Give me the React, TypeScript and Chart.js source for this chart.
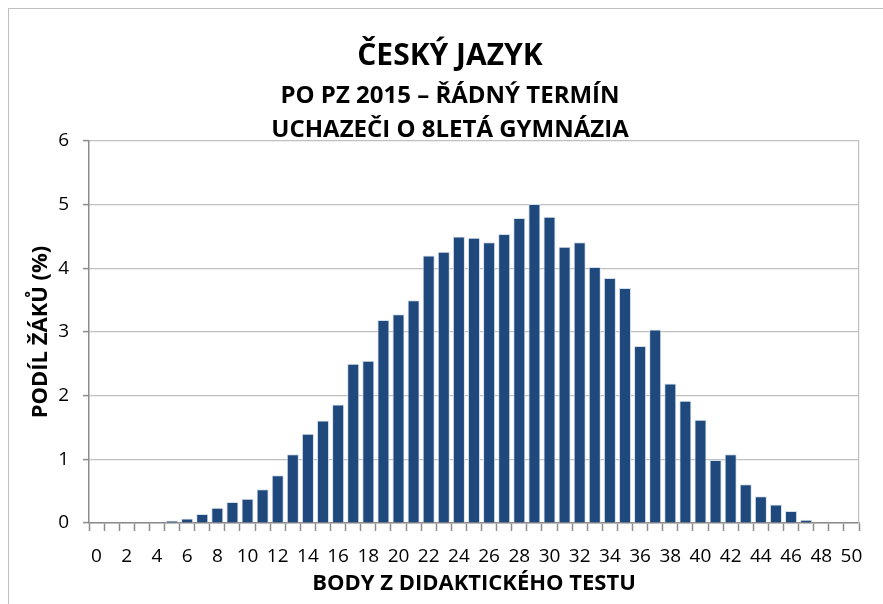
import React, { useEffect, useRef } from "react";
import { Chart, registerables } from "chart.js";

Chart.register(...registerables);

const points: string[] = [
  "0", "1", "2", "3", "4", "5", "6", "7", "8", "9",
  "10", "11", "12", "13", "14", "15", "16", "17", "18", "19",
  "20", "21", "22", "23", "24", "25", "26", "27", "28", "29",
  "30", "31", "32", "33", "34", "35", "36", "37", "38", "39",
  "40", "41", "42", "43", "44", "45", "46", "47", "48", "49", "50",
];

const shareOfPupils: number[] = [
  0, 0, 0, 0, 0, 0.04, 0.07, 0.14, 0.24, 0.33,
  0.38, 0.53, 0.75, 1.08, 1.4, 1.61, 1.86, 2.5, 2.55, 3.19,
  3.28, 3.5, 4.2, 4.26, 4.5, 4.48, 4.41, 4.54, 4.79, 5.01,
  4.81, 4.34, 4.41, 4.02, 3.85, 3.69, 2.78, 3.04, 2.19, 1.92,
  1.62, 0.99, 1.08, 0.61, 0.42, 0.29, 0.19, 0.05, 0, 0, 0,
];

const titleText = "ČESKÝ JAZYK";
const subtitleLines = ["PO PZ 2015 – ŘÁDNÝ TERMÍN", "UCHAZEČI O 8LETÁ GYMNÁZIA"];
const xTitle = "BODY Z DIDAKTICKÉHO TESTU";
const yTitle = "PODÍL ŽÁKŮ (%)";

const FONT = "'Open Sans', 'Noto Sans', sans-serif";

export default function App() {
  const ref = useRef<HTMLCanvasElement | null>(null);

  useEffect(() => {
    if (!ref.current) return;
    const chart = new Chart(ref.current, {
      type: "bar",
      data: {
        labels: points,
        datasets: [
          {
            data: shareOfPupils,
            backgroundColor: "#1F497D",
            borderColor: "#d6e0ec",
            borderWidth: 1,
            borderSkipped: "bottom",
            barPercentage: 0.8,
            categoryPercentage: 1,
          },
        ],
      },
      options: {
        responsive: false,
        animation: false,
        devicePixelRatio: 1,
        layout: { padding: { left: 8, right: 0, top: 0, bottom: 0 } },
        plugins: {
          legend: { display: false },
          tooltip: { enabled: false },
          title: {
            display: true,
            text: titleText,
            color: "#000",
            font: { family: FONT, size: 30, weight: "bold", lineHeight: 1.2 },
            padding: { top: 29, bottom: 0 },
          },
          subtitle: {
            display: true,
            text: subtitleLines,
            color: "#000",
            font: { family: FONT, size: 24, weight: "bold", lineHeight: "34px" },
            padding: { top: 5, bottom: -6 },
          },
        },
        scales: {
          x: {
            type: "category",
            offset: true,
            afterFit: (s: any) => {
              s.height = 81;
            },
            grid: {
              display: true,
              offset: true,
              drawOnChartArea: false,
              drawTicks: true,
              tickLength: 8,
              tickColor: "#8c8c8c",
              color: "#8c8c8c",
              tickWidth: 1.5,
            },
            border: { display: true, color: "#8c8c8c", width: 1.5 },
            ticks: {
              autoSkip: false,
              maxRotation: 0,
              minRotation: 0,
              padding: 14,
              color: "#000",
              font: { family: FONT, size: 19 },
              callback: (_v: any, i: number) => (i % 2 === 0 ? points[i] : ""),
            },
            title: {
              display: true,
              text: xTitle,
              color: "#000",
              font: { family: FONT, size: 22, weight: "bold", lineHeight: 1.2 },
              padding: { top: 0, bottom: 7 },
            },
          },
          y: {
            min: 0,
            max: 6,
            afterFit: (s: any) => {
              s.width = 72;
            },
            grid: {
              color: "#c0c0c0",
              lineWidth: 1.2,
              drawTicks: true,
              tickLength: 6,
              tickColor: "#8c8c8c",
              tickWidth: 1.5,
            },
            border: { display: true, color: "#8c8c8c", width: 1.5 },
            ticks: {
              stepSize: 1,
              padding: 14,
              color: "#000",
              font: { family: FONT, size: 19 },
            },
            title: {
              display: true,
              text: yTitle,
              color: "#000",
              font: { family: FONT, size: 22, weight: "bold", lineHeight: 1.2 },
              padding: { top: 11, bottom: 0 },
            },
          },
          y2: {
            position: "right",
            min: 0,
            max: 6,
            afterFit: (s: any) => {
              s.width = 24;
            },
            grid: { display: false, drawTicks: false },
            ticks: { display: false },
            border: { display: true, color: "#c0c0c0", width: 1.2 },
          },
        },
      },
    });
    return () => chart.destroy();
  }, []);

  return (
    <div
      style={{
        position: "fixed",
        left: 0,
        top: 0,
        width: 883,
        height: 604,
        overflow: "hidden",
        background: "#fff",
      }}
    >
      <div
        style={{
          position: "absolute",
          left: 8,
          top: 8,
          width: 900,
          height: 700,
          border: "1px solid #bfbfbf",
        }}
      >
        <canvas
          ref={ref}
          width={874}
          height={595}
          style={{ position: "absolute", left: 0, top: 0, width: 874, height: 595 }}
        />
      </div>
    </div>
  );
}
